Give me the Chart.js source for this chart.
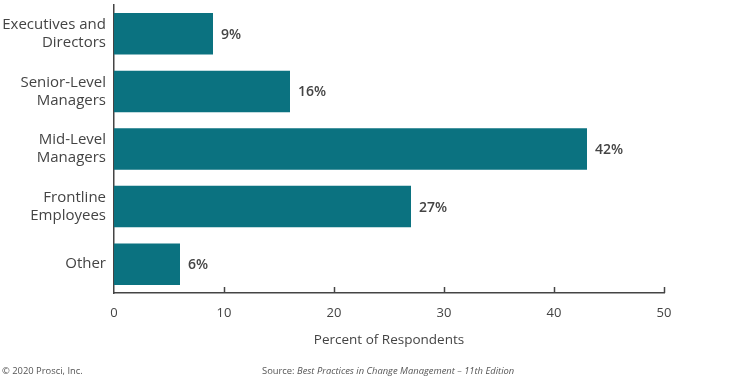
<!DOCTYPE html>
<html>
<head>
<meta charset="utf-8">
<script src="https://cdn.jsdelivr.net/npm/chart.js@4/dist/chart.umd.min.js"></script>
<style>
  html, body { margin: 0; padding: 0; background: #fff; }
  #wrap { position: relative; width: 750px; height: 383px; }
  .foot { position: absolute; top: 364px; font-family: "Open Sans", sans-serif; font-size: 9.4px; color: #555; white-space: nowrap; }
</style>
</head>
<body>
<div id="wrap">
  <canvas id="c" width="750" height="383"></canvas>
  <div class="foot" style="left:2px;">© 2020 Prosci, Inc.</div>
  <div class="foot" style="left:262px;">Source: <i>Best Practices in Change Management – 11th Edition</i></div>
</div>
<script>
const categories = [["Executives and", "Directors"], ["Senior-Level", "Managers"], ["Mid-Level", "Managers"], ["Frontline", "Employees"], ["Other"]];
const values = [9, 16, 43, 27, 6];
const valueLabels = ["9%", "16%", "42%", "27%", "6%"];
const xTicks = [0, 10, 20, 30, 40, 50];
const axisTitle = "Percent of Respondents";

const textColor = "#444";
const font = "Open Sans";

const valueLabelPlugin = {
  id: "valueLabels",
  afterDatasetsDraw(chart) {
    const ctx = chart.ctx;
    const meta = chart.getDatasetMeta(0);
    ctx.save();
    ctx.font = "600 14px '" + font + "'";
    ctx.fillStyle = textColor;
    ctx.textBaseline = "middle";
    ctx.textAlign = "left";
    meta.data.forEach((bar, i) => {
      ctx.fillText(valueLabels[i], bar.x + 8, bar.y + 1);
    });
    ctx.restore();
  }
};

const innerTicksPlugin = {
  id: "innerTicks",
  afterDraw(chart) {
    const ctx = chart.ctx;
    const xs = chart.scales.x;
    const bottom = chart.chartArea.bottom;
    ctx.save();
    ctx.strokeStyle = textColor;
    ctx.lineWidth = 1.5;
    xTicks.forEach(v => {
      if (v === 0) return;
      const px = Math.round(xs.getPixelForValue(v)) + 0.5;
      ctx.beginPath();
      ctx.moveTo(px, bottom - 6);
      ctx.lineTo(px, bottom);
      ctx.stroke();
    });
    ctx.restore();
  }
};

new Chart(document.getElementById("c"), {
  type: "bar",
  data: {
    labels: categories,
    datasets: [{
      data: values,
      backgroundColor: "#0b7280",
      borderWidth: 0,
      categoryPercentage: 1.0,
      barPercentage: 0.72
    }]
  },
  options: {
    indexAxis: "y",
    responsive: false,
    animation: false,
    events: [],
    layout: { autoPadding: false, padding: { top: 5, right: 86, bottom: 30, left: 0 } },
    plugins: { legend: { display: false }, tooltip: { enabled: false } },
    scales: {
      x: {
        min: 0, max: 50,
        afterBuildTicks(scale) { scale.ticks = xTicks.map(v => ({ value: v })); },
        afterFit(scale) { scale.height = 60; scale.paddingLeft = 0; scale.paddingRight = 0; },
        grid: { display: false, drawTicks: false },
        border: { display: true, color: textColor, width: 1.5 },
        ticks: { padding: 12, color: textColor, font: { family: font, size: 13 } },
        title: { display: true, text: axisTitle, color: textColor, font: { family: font, size: 13.5 }, padding: { top: 0, bottom: 5 } }
      },
      y: {
        afterFit(scale) { scale.width = 114; scale.paddingTop = 0; scale.paddingBottom = 0; },
        grid: { display: false, drawTicks: false },
        border: { display: true, color: textColor, width: 1.5 },
        ticks: { padding: 8, color: textColor, font: { family: font, size: 15, lineHeight: 1.2 } }
      }
    }
  },
  plugins: [valueLabelPlugin, innerTicksPlugin]
});
</script>
</body>
</html>
